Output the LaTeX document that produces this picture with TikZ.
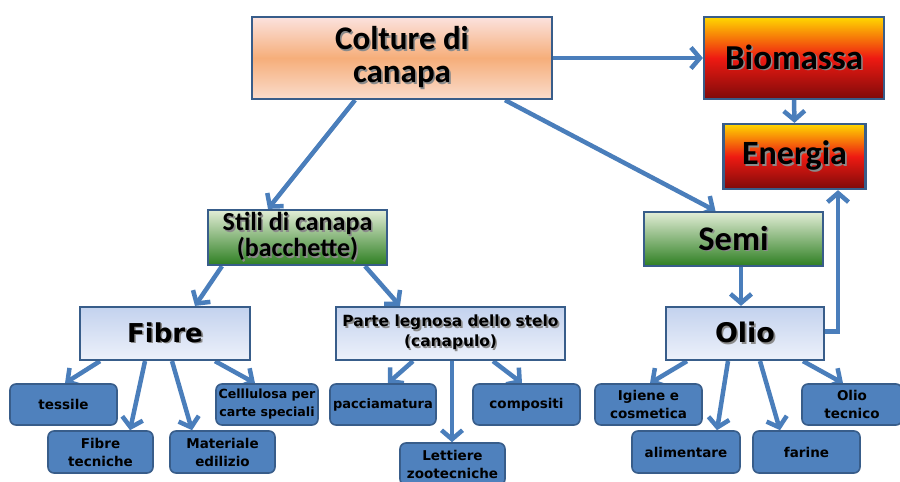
\documentclass[tikz,border=0pt]{standalone}
\usepackage{fontspec}
\setmainfont{Carlito}
\newfontfamily\dvs{DejaVu Sans}
\usetikzlibrary{arrows.meta,calc,backgrounds}
\definecolor{bordc}{HTML}{385D8A}
\definecolor{arrc}{HTML}{4A7EBB}
\definecolor{leafc}{HTML}{4F81BD}
\definecolor{cpinka}{HTML}{FBE2DE}
\definecolor{corange}{HTML}{F6AE7A}
\definecolor{cpinkb}{HTML}{FADCCC}
\definecolor{cyel}{HTML}{FFD800}
\definecolor{cred}{HTML}{EE1A12}
\definecolor{cdred}{HTML}{7E0A0A}
\definecolor{cgreena}{HTML}{E2EDD6}
\definecolor{cgreenb}{HTML}{2E7F22}
\definecolor{cbluea}{HTML}{C3D2EE}
\definecolor{cblueb}{HTML}{EDF1FA}
\definecolor{shadc}{HTML}{8A8A8A}
\newcommand\shd[1]{\makebox[0pt][l]{\hspace{1.6pt}\raisebox{-1.6pt}{\textcolor{shadc}{#1}}}#1}
\tikzset{
  box/.style={draw=bordc, line width=2.2pt, inner sep=0pt, align=center, text=black},
  orangebox/.style={box, top color=cpinka, bottom color=cpinkb, middle color=corange},
  firebox/.style={box, top color=cyel, bottom color=cdred, middle color=cred},
  greenbox/.style={box, top color=cgreena, bottom color=cgreenb},
  bluebox/.style={box, top color=cbluea, bottom color=cblueb},
  leaf/.style={draw=bordc, line width=1.6pt, fill=leafc, rounded corners=6pt, inner sep=0pt,
    align=center, text=black, font=\dvs\bfseries\fontsize{13.5}{18}\selectfont},
  arr/.style={draw=arrc, line width=4.5pt, -{Straight Barb[length=9pt,width=21pt]}}
}
\begin{document}
\begin{tikzpicture}[x=1pt,y=-1pt]
\useasboundingbox (0,0) rectangle (900,482);
% main boxes
\node[orangebox, minimum width=300pt, minimum height=82pt, font=\bfseries\fontsize{33}{33}\selectfont] (colture) at (402,58) {\shd{Colture di}\\\shd{canapa}};
\node[firebox, minimum width=180pt, minimum height=82pt, font=\bfseries\fontsize{35}{35}\selectfont] (biomassa) at (794,58) {\shd{Biomassa}};
\node[firebox, minimum width=142pt, minimum height=65pt, font=\bfseries\fontsize{34}{34}\selectfont] (energia) at (794.5,156.5) {\shd{Energia}};
\node[greenbox, minimum width=179pt, minimum height=55pt, font=\bfseries\fontsize{26}{26}\selectfont] (stili) at (297.5,237.5) {\shd{Stili di canapa}\\\shd{(bacchette)}};
\node[greenbox, minimum width=179pt, minimum height=54pt, font=\bfseries\fontsize{34.5}{34}\selectfont] (semi) at (733.5,239) {\shd{Semi}};
\node[bluebox, minimum width=170pt, minimum height=53pt, font=\dvs\bfseries\fontsize{26}{26}\selectfont] (fibre) at (165,333.5) {\shd{Fibre}};
\node[bluebox, minimum width=229pt, minimum height=53pt, font=\dvs\bfseries\fontsize{15.4}{20}\selectfont] (parte) at (450.5,333.5) {\shd{Parte legnosa dello stelo}\\\shd{(canapulo)}};
\node[bluebox, minimum width=158pt, minimum height=53pt, font=\dvs\bfseries\fontsize{27}{27}\selectfont] (olio) at (745,333.5) {\shd{Olio}};
% leaves
\node[leaf, minimum width=107pt, minimum height=41pt] (tessile) at (63.5,404.5) {tessile};
\node[leaf, minimum width=105pt, minimum height=42pt] (fibtec) at (100.5,452) {Fibre\\tecniche};
\node[leaf, minimum width=105pt, minimum height=42pt] (mater) at (222.5,452) {Materiale\\edilizio};
\node[leaf, minimum width=102pt, minimum height=41pt, font=\dvs\bfseries\fontsize{12.6}{18}\selectfont] (cellul) at (267,404.5) {Celllulosa per\\carte speciali};
\node[leaf, minimum width=106pt, minimum height=41pt, font=\dvs\bfseries\fontsize{13}{18}\selectfont] (paccia) at (383,404.5) {pacciamatura};
\node[leaf, minimum width=105pt, minimum height=42pt] (lettiere) at (452.5,464) {Lettiere\\zootecniche};
\node[leaf, minimum width=107pt, minimum height=41pt] (compositi) at (526.5,404.5) {compositi};
\node[leaf, minimum width=107pt, minimum height=41pt] (igiene) at (648.5,404.5) {Igiene e\\cosmetica};
\node[leaf, minimum width=108pt, minimum height=42pt] (aliment) at (686,452) {alimentare};
\node[leaf, minimum width=107pt, minimum height=42pt] (farine) at (806.5,452) {farine};
\node[leaf, minimum width=100pt, minimum height=41pt] (oliotec) at (852,404.5) {Olio\\tecnico};
% connectors
\begin{pgfonlayer}{background}
\fill[white] (0,0) rectangle (900,482);
\draw[arr] (colture.east) -- (biomassa.west);
\draw[arr] (biomassa.south) -- (energia.north);
\draw[arr] ($(colture.south)+(-47,0)$) -- ($(stili.north)+(-29.5,0)$);
\draw[arr] ($(colture.south)+(103,0)$) -- ($(semi.north)+(-18,0)$);
\draw[arr] ($(stili.south)+(-75.5,0)$) -- ($(fibre.north)+(30,0)$);
\draw[arr] ($(stili.south)+(67.5,0)$) -- ($(parte.north)+(-50.5,0)$);
\draw[arr] ($(semi.south)+(7.5,0)$) -- ($(olio.north)+(-4,0)$);
\draw[arr] ($(olio.east)+(0,-2)$) -| ($(energia.south)+(43.5,0)$);
\draw[arr] ($(fibre.south)+(-65,0)$) -- ($(tessile.north)+(1.5,0)$);
\draw[arr] ($(fibre.south)+(-20,0)$) -- ($(fibtec.north)+(29.5,0)$);
\draw[arr] ($(fibre.south)+(7,0)$) -- ($(mater.north)+(-30.5,0)$);
\draw[arr] ($(fibre.south)+(50,0)$) -- ($(cellul.north)+(-12,0)$);
\draw[arr] ($(parte.south)+(-37.5,0)$) -- ($(paccia.north)+(5,0)$);
\draw[arr] ($(parte.south)+(1.5,0)$) -- ($(lettiere.north)+(-0.5,0)$);
\draw[arr] ($(parte.south)+(42.5,0)$) -- ($(compositi.north)+(-4.5,0)$);
\draw[arr] ($(olio.south)+(-58,0)$) -- ($(igiene.north)+(1.5,0)$);
\draw[arr] ($(olio.south)+(-17,0)$) -- ($(aliment.north)+(31,0)$);
\draw[arr] ($(olio.south)+(15,0)$) -- ($(farine.north)+(-26.5,0)$);
\draw[arr] ($(olio.south)+(58,0)$) -- ($(oliotec.north)+(-9,0)$);
\end{pgfonlayer}
\end{tikzpicture}
\end{document}
